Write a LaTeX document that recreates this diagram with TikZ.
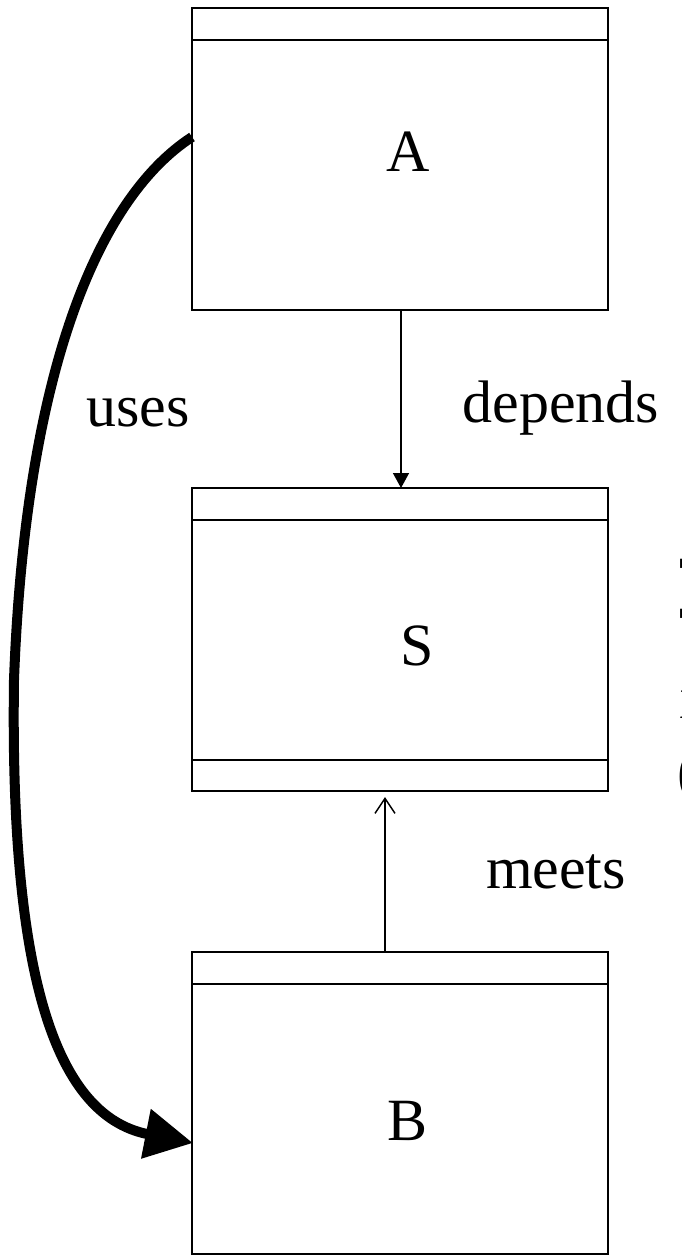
\documentclass[tikz,border=0pt]{standalone}
\usepackage{fontspec}
\setmainfont{Liberation Serif}
\usetikzlibrary{arrows.meta}
\begin{document}
\begin{tikzpicture}[x=1pt,y=-1pt,
  box/.style={draw,line width=1.6pt,rectangle,minimum width=416pt,inner sep=0pt,outer sep=0pt},
  lab/.style={font=\fontsize{60}{72}\selectfont,inner sep=0pt},
  conn/.style={line width=1.5pt},
  usesconn/.style={line width=10pt,-{Triangle[length=48pt,width=48pt]}}]
\useasboundingbox (0,0) rectangle (681,1258);
% boxes
\node[box,minimum height=302pt] (A) at (400,159) {};
\node[box,minimum height=303pt] (S) at (400,639.5) {};
\node[box,minimum height=302pt] (B) at (400,1103) {};
% compartment lines
\draw[line width=1.6pt] ([yshift=-32pt]A.north west) -- ([yshift=-32pt]A.north east);
\draw[line width=1.6pt] ([yshift=-32pt]S.north west) -- ([yshift=-32pt]S.north east);
\draw[line width=1.6pt] ([yshift=31pt]S.south west) -- ([yshift=31pt]S.south east);
\draw[line width=1.6pt] ([yshift=-32pt]B.north west) -- ([yshift=-32pt]B.north east);
% box texts
\node[lab] (Atext) at (408,152) {A};
\node[lab] (Stext) at (417,646) {S};
\node[lab] (Btext) at (408,1121) {B};
% connectors
\draw[conn,-{Triangle[length=15pt,width=16pt]}] (A.south -| 401,0) -- (S.north -| 401,0);
\coordinate (Stip) at ([yshift=-6pt]S.south -| 385,0);
\draw[conn,-{Straight Barb[length=15pt,width=20pt,line width=1.5pt]}] (B.north -| 385,0) -- (Stip);
\coordinate (usesStart) at (192,137);
\coordinate (usesMid) at (14,680);
\coordinate (usesEnd) at (193,1143);
\draw[usesconn] (usesStart) .. controls (95,200) and (25,380) .. (usesMid)
  .. controls (10,960) and (50,1115) .. (usesEnd);
% labels
\node[lab] (depends) at (561,408) {depends};
\node[lab] (uses) at (138,413) {uses};
\node[lab] (meets) at (556,872) {meets};
% cut-off note on the right
\node[lab,anchor=base west] (n1) at (679,598) {The};
\node[lab,anchor=base west] (n2) at (679,648) {The};
\node[lab,anchor=base west] (n3) at (679,718) {is};
\node[lab,anchor=base west] (n4) at (677,791) {(};
\end{tikzpicture}
\end{document}
